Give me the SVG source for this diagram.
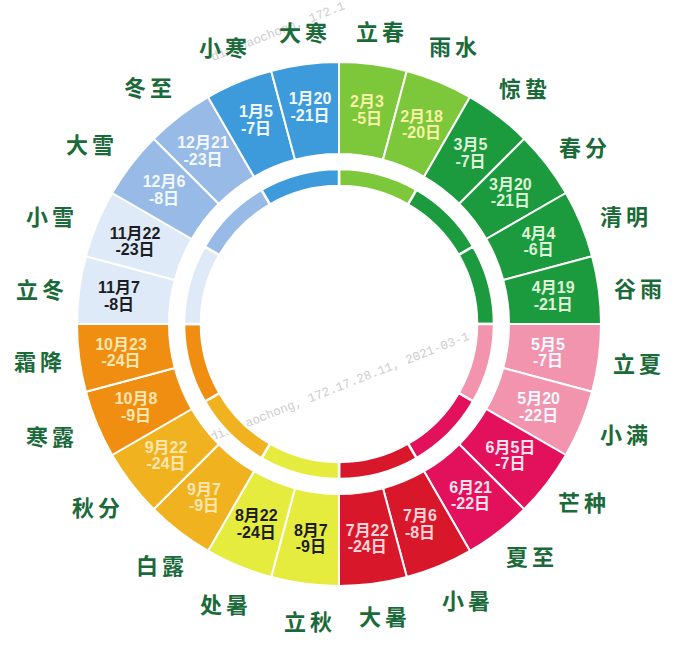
<svg xmlns="http://www.w3.org/2000/svg" width="684" height="648" viewBox="0 0 684 648">
<style>
.seg{stroke:#ffffff;stroke-width:2;stroke-linejoin:round}
.thin{stroke:#ffffff;stroke-width:2.5}
.c1{fill:#3e9bdb}.c12{fill:#98bae6}.c11{fill:#dfeaf8}
.c2{fill:#7cc73a}.c3{fill:#1b9a3e}
.c5{fill:#f394ae}.c6{fill:#e3115c}.c7{fill:#d9172a}
.c8{fill:#e5ec3e}.c9{fill:#f1b220}.c10{fill:#f08e12}
.d{font-family:"Liberation Sans","Noto Sans CJK SC",sans-serif;font-weight:700;font-size:16px;text-anchor:middle}
.tw{fill:#f2f8ff}.tk{fill:#1c1c24}.ty{fill:#f6f2a6}.tg{fill:#dff3d8}.tp{fill:#fde3ec}.tr{fill:#fcd3d8}.to{fill:#fde6b0}
.lb{font-family:"Noto Sans CJK SC","Noto Sans CJK JP",sans-serif;font-weight:700;font-size:22px;fill:#1b6a3a;text-anchor:middle;letter-spacing:4px}
.wm{font-family:"Liberation Mono",monospace;font-size:12.5px;fill:#b8b8b8;opacity:0.7}
</style>
<rect width="684" height="648" fill="#ffffff"/>
<g id="watermark">
<text class="wm" transform="translate(212,441) rotate(-21.5)">dingbaochong, 172.17.28.11, 2021-03-1</text>
<text class="wm" transform="translate(213,61) rotate(-21.5)">dingbaochong, 172.1</text>
</g>
<g id="inner-ring">
<path class="thin c2" d="M339,169 A155,155 0 0 1 416.5,189.77 L408,204.49 A138,138 0 0 0 339,186 Z"/>
<path class="thin c3" d="M416.5,189.77 A155,155 0 0 1 473.23,246.5 L458.51,255 A138,138 0 0 0 408,204.49 Z"/>
<path class="thin c3" d="M473.23,246.5 A155,155 0 0 1 494,324 L477,324 A138,138 0 0 0 458.51,255 Z"/>
<path class="thin c5" d="M494,324 A155,155 0 0 1 473.23,401.5 L458.51,393 A138,138 0 0 0 477,324 Z"/>
<path class="thin c6" d="M473.23,401.5 A155,155 0 0 1 416.5,458.23 L408,443.51 A138,138 0 0 0 458.51,393 Z"/>
<path class="thin c7" d="M416.5,458.23 A155,155 0 0 1 339,479 L339,462 A138,138 0 0 0 408,443.51 Z"/>
<path class="thin c8" d="M339,479 A155,155 0 0 1 261.5,458.23 L270,443.51 A138,138 0 0 0 339,462 Z"/>
<path class="thin c9" d="M261.5,458.23 A155,155 0 0 1 204.77,401.5 L219.49,393 A138,138 0 0 0 270,443.51 Z"/>
<path class="thin c10" d="M204.77,401.5 A155,155 0 0 1 184,324 L201,324 A138,138 0 0 0 219.49,393 Z"/>
<path class="thin c11" d="M184,324 A155,155 0 0 1 204.77,246.5 L219.49,255 A138,138 0 0 0 201,324 Z"/>
<path class="thin c12" d="M204.77,246.5 A155,155 0 0 1 261.5,189.77 L270,204.49 A138,138 0 0 0 219.49,255 Z"/>
<path class="thin c1" d="M261.5,189.77 A155,155 0 0 1 339,169 L339,186 A138,138 0 0 0 270,204.49 Z"/>
</g>
<g id="lichun"><path class="seg c2" d="M339,62 A262,262 0 0 1 406.81,70.93 L383,159.79 A170,170 0 0 0 339,154 Z"/>
<text class="d ty" x="367" y="107">2月3</text><text class="d ty" x="367" y="123.5">-5日</text>
<text class="lb" x="382" y="40">立春</text></g>
<g id="yushui"><path class="seg c2" d="M406.81,70.93 A262,262 0 0 1 470,97.1 L424,176.78 A170,170 0 0 0 383,159.79 Z"/>
<text class="d ty" x="421.5" y="121.8">2月18</text><text class="d ty" x="421.5" y="138.3">-20日</text>
<text class="lb" x="455" y="55">雨水</text></g>
<g id="jingzhe"><path class="seg c3" d="M470,97.1 A262,262 0 0 1 524.26,138.74 L459.21,203.79 A170,170 0 0 0 424,176.78 Z"/>
<text class="d tg" x="470.5" y="150">3月5</text><text class="d tg" x="470.5" y="166.5">-7日</text>
<text class="lb" x="525" y="97">惊蛰</text></g>
<g id="chunfen"><path class="seg c3" d="M524.26,138.74 A262,262 0 0 1 565.9,193 L486.22,239 A170,170 0 0 0 459.21,203.79 Z"/>
<text class="d tg" x="510.4" y="189.9">3月20</text><text class="d tg" x="510.4" y="206.4">-21日</text>
<text class="lb" x="585" y="156">春分</text></g>
<g id="qingming"><path class="seg c3" d="M565.9,193 A262,262 0 0 1 592.07,256.19 L503.21,280 A170,170 0 0 0 486.22,239 Z"/>
<text class="d tg" x="538.6" y="238.7">4月4</text><text class="d tg" x="538.6" y="255.2">-6日</text>
<text class="lb" x="626" y="225">清明</text></g>
<g id="guyu"><path class="seg c3" d="M592.07,256.19 A262,262 0 0 1 601,324 L509,324 A170,170 0 0 0 503.21,280 Z"/>
<text class="d tg" x="553.2" y="293.2">4月19</text><text class="d tg" x="553.2" y="309.7">-21日</text>
<text class="lb" x="640" y="297">谷雨</text></g>
<g id="lixia"><path class="seg c5" d="M601,324 A262,262 0 0 1 592.07,391.81 L503.21,368 A170,170 0 0 0 509,324 Z"/>
<text class="d tw" x="548" y="349.6">5月5</text><text class="d tw" x="548" y="366.1">-7日</text>
<text class="lb" x="639" y="372">立夏</text></g>
<g id="xiaoman"><path class="seg c5" d="M592.07,391.81 A262,262 0 0 1 565.9,455 L486.22,409 A170,170 0 0 0 503.21,368 Z"/>
<text class="d tw" x="538.6" y="404.1">5月20</text><text class="d tw" x="538.6" y="420.6">-22日</text>
<text class="lb" x="626" y="443">小满</text></g>
<g id="mangzhong"><path class="seg c6" d="M565.9,455 A262,262 0 0 1 524.26,509.26 L459.21,444.21 A170,170 0 0 0 486.22,409 Z"/>
<text class="d tp" x="510.4" y="452.9">6月5日</text><text class="d tp" x="510.4" y="469.4">-7日</text>
<text class="lb" x="584" y="511">芒种</text></g>
<g id="xiazhi"><path class="seg c6" d="M524.26,509.26 A262,262 0 0 1 470,550.9 L424,471.22 A170,170 0 0 0 459.21,444.21 Z"/>
<text class="d tp" x="470.5" y="492.8">6月21</text><text class="d tp" x="470.5" y="509.3">-22日</text>
<text class="lb" x="532" y="565">夏至</text></g>
<g id="xiaoshu"><path class="seg c7" d="M470,550.9 A262,262 0 0 1 406.81,577.07 L383,488.21 A170,170 0 0 0 424,471.22 Z"/>
<text class="d tr" x="420" y="521">7月6</text><text class="d tr" x="420" y="537.5">-8日</text>
<text class="lb" x="468" y="609">小暑</text></g>
<g id="dashu"><path class="seg c7" d="M406.81,577.07 A262,262 0 0 1 339,586 L339,494 A170,170 0 0 0 383,488.21 Z"/>
<text class="d tr" x="367.2" y="535.6">7月22</text><text class="d tr" x="367.2" y="552.1">-24日</text>
<text class="lb" x="385" y="625">大暑</text></g>
<g id="liqiu"><path class="seg c8" d="M339,586 A262,262 0 0 1 271.19,577.07 L295,488.21 A170,170 0 0 0 339,494 Z"/>
<text class="d tk" x="310.8" y="535.6">8月7</text><text class="d tk" x="310.8" y="552.1">-9日</text>
<text class="lb" x="310" y="630">立秋</text></g>
<g id="chushu"><path class="seg c8" d="M271.19,577.07 A262,262 0 0 1 208,550.9 L254,471.22 A170,170 0 0 0 295,488.21 Z"/>
<text class="d tk" x="256.3" y="521">8月22</text><text class="d tk" x="256.3" y="537.5">-24日</text>
<text class="lb" x="226" y="613">处暑</text></g>
<g id="bailu"><path class="seg c9" d="M208,550.9 A262,262 0 0 1 153.74,509.26 L218.79,444.21 A170,170 0 0 0 254,471.22 Z"/>
<text class="d to" x="204" y="494.8">9月7</text><text class="d to" x="204" y="511.3">-9日</text>
<text class="lb" x="162" y="574">白露</text></g>
<g id="qiufen"><path class="seg c9" d="M153.74,509.26 A262,262 0 0 1 112.1,455 L191.78,409 A170,170 0 0 0 218.79,444.21 Z"/>
<text class="d to" x="166" y="452.9">9月22</text><text class="d to" x="166" y="469.4">-24日</text>
<text class="lb" x="98" y="516">秋分</text></g>
<g id="hanlu"><path class="seg c10" d="M112.1,455 A262,262 0 0 1 85.93,391.81 L174.79,368 A170,170 0 0 0 191.78,409 Z"/>
<text class="d to" x="136" y="404.1">10月8</text><text class="d to" x="136" y="420.6">-9日</text>
<text class="lb" x="52" y="445">寒露</text></g>
<g id="shuangjiang"><path class="seg c10" d="M85.93,391.81 A262,262 0 0 1 77,324 L169,324 A170,170 0 0 0 174.79,368 Z"/>
<text class="d to" x="121" y="349.6">10月23</text><text class="d to" x="121" y="366.1">-24日</text>
<text class="lb" x="40" y="370">霜降</text></g>
<g id="lidong"><path class="seg c11" d="M77,324 A262,262 0 0 1 85.93,256.19 L174.79,280 A170,170 0 0 0 169,324 Z"/>
<text class="d tk" x="119" y="293.2">11月7</text><text class="d tk" x="119" y="309.7">-8日</text>
<text class="lb" x="42" y="298">立冬</text></g>
<g id="xiaoxue"><path class="seg c11" d="M85.93,256.19 A262,262 0 0 1 112.1,193 L191.78,239 A170,170 0 0 0 174.79,280 Z"/>
<text class="d tk" x="135" y="238.7">11月22</text><text class="d tk" x="135" y="255.2">-23日</text>
<text class="lb" x="52" y="225">小雪</text></g>
<g id="daxue"><path class="seg c12" d="M112.1,193 A262,262 0 0 1 153.74,138.74 L218.79,203.79 A170,170 0 0 0 191.78,239 Z"/>
<text class="d tw" x="164" y="187">12月6</text><text class="d tw" x="164" y="203.5">-8日</text>
<text class="lb" x="92" y="153">大雪</text></g>
<g id="dongzhi"><path class="seg c12" d="M153.74,138.74 A262,262 0 0 1 208,97.1 L254,176.78 A170,170 0 0 0 218.79,203.79 Z"/>
<text class="d tw" x="203" y="148">12月21</text><text class="d tw" x="203" y="164.5">-23日</text>
<text class="lb" x="150" y="96">冬至</text></g>
<g id="xiaohan"><path class="seg c1" d="M208,97.1 A262,262 0 0 1 271.19,70.93 L295,159.79 A170,170 0 0 0 254,176.78 Z"/>
<text class="d tw" x="256" y="117">1月5</text><text class="d tw" x="256" y="133.5">-7日</text>
<text class="lb" x="225" y="56">小寒</text></g>
<g id="dahan"><path class="seg c1" d="M271.19,70.93 A262,262 0 0 1 339,62 L339,154 A170,170 0 0 0 295,159.79 Z"/>
<text class="d tw" x="310" y="104">1月20</text><text class="d tw" x="310" y="120.5">-21日</text>
<text class="lb" x="305" y="41">大寒</text></g>
</svg>
